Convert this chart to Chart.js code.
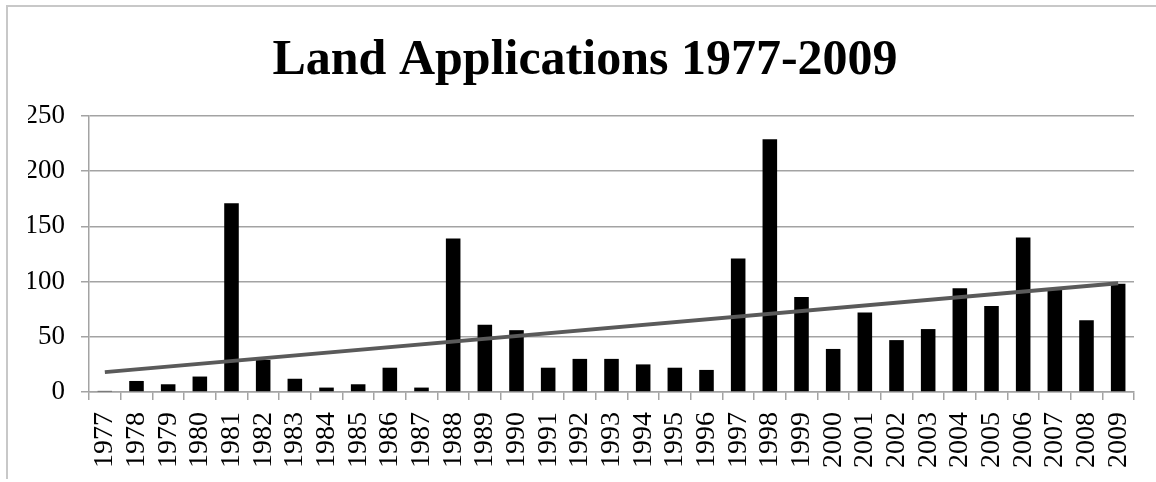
<!DOCTYPE html>
<html>
<head>
<meta charset="utf-8">
<script src="https://cdn.jsdelivr.net/npm/chart.js@4/dist/chart.umd.min.js"></script>
<style>
  html, body { margin: 0; padding: 0; background: #fff; }
  #wrap { position: relative; width: 1156px; height: 482px; }
  #frame {
    position: absolute; left: 6px; top: 5px; right: -4px; bottom: 3px;
    border-left: 2px solid #c8c8c8; border-top: 2px solid #c8c8c8;
  }
  #chart { position: absolute; left: 0; top: 0; }
</style>
</head>
<body>
<div id="wrap">
  <div id="frame"></div>
  <canvas id="chart" width="1156" height="482"></canvas>
</div>
<script>
const years = ["1977", "1978", "1979", "1980", "1981", "1982", "1983", "1984", "1985", "1986",
  "1987", "1988", "1989", "1990", "1991", "1992", "1993", "1994", "1995", "1996",
  "1997", "1998", "1999", "2000", "2001", "2002", "2003", "2004", "2005", "2006",
  "2007", "2008", "2009"];
const applications = [1, 10, 7, 14, 171, 29, 12, 4, 7, 22,
  4, 139, 61, 56, 22, 30, 30, 25, 22, 20,
  121, 229, 86, 39, 72, 47, 57, 94, 78, 140,
  94, 65, 98];
// trend line at its two ends
const trendStart = 18;
const trendEnd = 98.5;
const yTicks = [0, 50, 100, 150, 200, 250];

const trend = years.map((y, i) => i === 0 ? trendStart : (i === years.length - 1 ? trendEnd : null));

const gridGray = "#a3a3a3";
const serif = "'Liberation Serif', 'DejaVu Serif', serif";

new Chart(document.getElementById("chart"), {
  data: {
    labels: years,
    datasets: [
      {
        type: "line",
        label: "Trend",
        data: trend,
        spanGaps: true,
        borderColor: "#5a5a5a",
        borderWidth: 4,
        pointRadius: 0,
        order: 0
      },
      {
        type: "bar",
        label: "Land Applications",
        data: applications,
        backgroundColor: "#000000",
        categoryPercentage: 1,
        barPercentage: 0.46,
        order: 1
      }
    ]
  },
  options: {
    responsive: false,
    animation: false,
    layout: { padding: { left: 28, right: 14, top: 0, bottom: 2 } },
    plugins: {
      legend: { display: false },
      tooltip: { enabled: false },
      title: {
        display: true,
        text: "Land Applications 1977-2009",
        color: "#000",
        font: { family: serif, size: 50, weight: "bold" },
        padding: { top: 31, bottom: 25 }
      }
    },
    scales: {
      x: {
        offset: true,
        // keep the plot right edge where the reference has it
        afterFit: (axis) => { axis.paddingLeft = 0; axis.paddingRight = 22; },
        grid: {
          offset: true,
          color: (ctx) => ctx.index === years.length ? gridGray : "rgba(0,0,0,0)",
          tickColor: gridGray,
          tickLength: 8,
          lineWidth: 1.5
        },
        border: { color: gridGray, width: 1.5 },
        ticks: {
          color: "#000",
          font: { family: serif, size: 28 },
          maxRotation: 90,
          minRotation: 90,
          padding: 12,
          autoSkip: false
        }
      },
      y: {
        min: 0,
        max: 250,
        afterBuildTicks: (axis) => { axis.ticks = yTicks.map(v => ({ value: v })); },
        // labels may hang into the left padding
        afterFit: (axis) => { axis.width = 61; },
        grid: { color: gridGray, tickColor: gridGray, tickLength: 8, lineWidth: 1.5 },
        border: { color: gridGray, width: 1.5 },
        ticks: {
          color: "#000",
          font: { family: serif, size: 27 },
          padding: 16
        }
      }
    }
  }
});
</script>
</body>
</html>
